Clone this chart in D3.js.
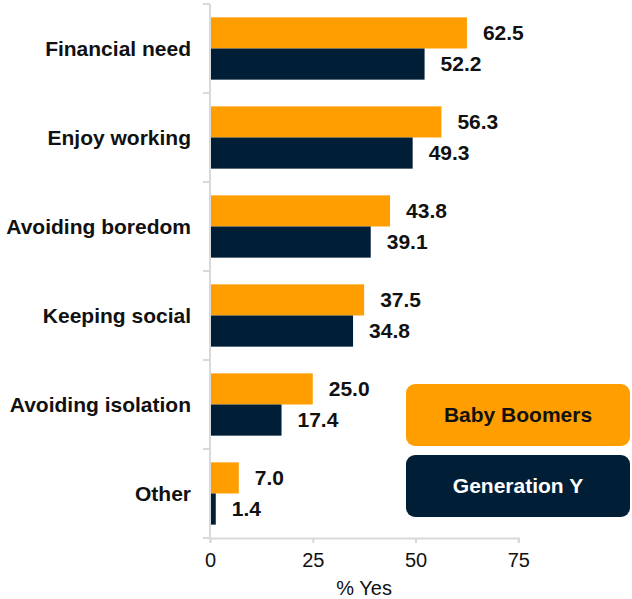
<!DOCTYPE html>
<html>
<head>
<meta charset="utf-8">
<script src="https://cdn.jsdelivr.net/npm/d3@7"></script>
<style>
  html, body { margin: 0; padding: 0; background: #fff; }
  svg { display: block; font-family: "Liberation Sans", Arial, Helvetica, sans-serif; }
</style>
</head>
<body>
<svg id="chart" width="632" height="599"></svg>
<script>
// Reasons for working, by generation (% answering yes)
const categories = ["Financial need", "Enjoy working", "Avoiding boredom", "Keeping social", "Avoiding isolation", "Other"];
const seriesNames = ["Baby Boomers", "Generation Y"];
const babyBoomers = [62.5, 56.3, 43.8, 37.5, 25.0, 7.0];
const generationY = [52.2, 49.3, 39.1, 34.8, 17.4, 1.4];
const xTicks = [0, 25, 50, 75];
const xTitle = "% Yes";

const colors = ["#FF9E00", "#001E36"];
const seriesValues = [babyBoomers, generationY];

const svg = d3.select("#chart");

const x = d3.scaleLinear().domain([0, 75]).range([210, 518.3]);
const y = d3.scaleBand().domain(categories).range([4, 538])
  .paddingInner(0.3).paddingOuter(0.15);
const inner = d3.scaleBand().domain(seriesNames).range([0, y.bandwidth()]);

const axisColor = "#D9D9D9";
const labelSize = 21;

// Bars with value labels
categories.forEach((cat, i) => {
  seriesValues.forEach((vals, s) => {
    const yy = y(cat) + inner(seriesNames[s]);
    svg.append("rect")
      .attr("x", x(0))
      .attr("y", yy)
      .attr("width", x(vals[i]) - x(0))
      .attr("height", inner.bandwidth())
      .attr("fill", colors[s]);
    svg.append("text")
      .attr("x", x(vals[i]) + 16)
      .attr("y", yy + inner.bandwidth() / 2)
      .attr("dy", "0.35em")
      .attr("font-size", labelSize)
      .attr("font-weight", "bold")
      .attr("fill", "#111")
      .text(vals[i].toFixed(1));
  });
});

// Category axis: line with separators between bands
const step = y.step();
const bounds = categories.map(c => y(c) - step * y.paddingInner() / 2);
bounds.push(538);
svg.append("line")
  .attr("x1", x(0)).attr("x2", x(0))
  .attr("y1", 4).attr("y2", 538)
  .attr("stroke", axisColor).attr("stroke-width", 2);
bounds.forEach(b => {
  svg.append("line")
    .attr("x1", x(0) - 7).attr("x2", x(0))
    .attr("y1", b).attr("y2", b)
    .attr("stroke", axisColor).attr("stroke-width", 2);
});
categories.forEach(cat => {
  svg.append("text")
    .attr("x", 191)
    .attr("y", y(cat) + y.bandwidth() / 2)
    .attr("dy", "0.35em")
    .attr("text-anchor", "end")
    .attr("font-size", labelSize)
    .attr("font-weight", "bold")
    .attr("fill", "#111")
    .text(cat);
});

// Value axis
const xAxis = svg.append("g")
  .attr("transform", "translate(0,538)")
  .call(d3.axisBottom(x).tickValues(xTicks).tickSize(5).tickPadding(10).tickFormat(d3.format("d")));
xAxis.select(".domain").attr("stroke", axisColor).attr("stroke-width", 2);
xAxis.selectAll(".tick line").attr("stroke", axisColor).attr("stroke-width", 2);
xAxis.selectAll(".tick text")
  .attr("font-size", 20)
  .attr("font-family", "\"Liberation Sans\", Arial, sans-serif")
  .attr("fill", "#111");

svg.append("text")
  .attr("x", (x(0) + x(75)) / 2)
  .attr("y", 588)
  .attr("dy", "0.35em")
  .attr("text-anchor", "middle")
  .attr("font-size", 20)
  .attr("fill", "#111")
  .text(xTitle);

// Legend
const legendY = [384, 455];
seriesNames.forEach((name, s) => {
  svg.append("rect")
    .attr("x", 406).attr("y", legendY[s])
    .attr("width", 224).attr("height", 62)
    .attr("rx", 9).attr("ry", 9)
    .attr("fill", colors[s]);
  svg.append("text")
    .attr("x", 518).attr("y", legendY[s] + 31)
    .attr("dy", "0.35em")
    .attr("text-anchor", "middle")
    .attr("font-size", labelSize)
    .attr("font-weight", "bold")
    .attr("fill", s === 0 ? "#111" : "#fff")
    .text(name);
});
</script>
</body>
</html>
